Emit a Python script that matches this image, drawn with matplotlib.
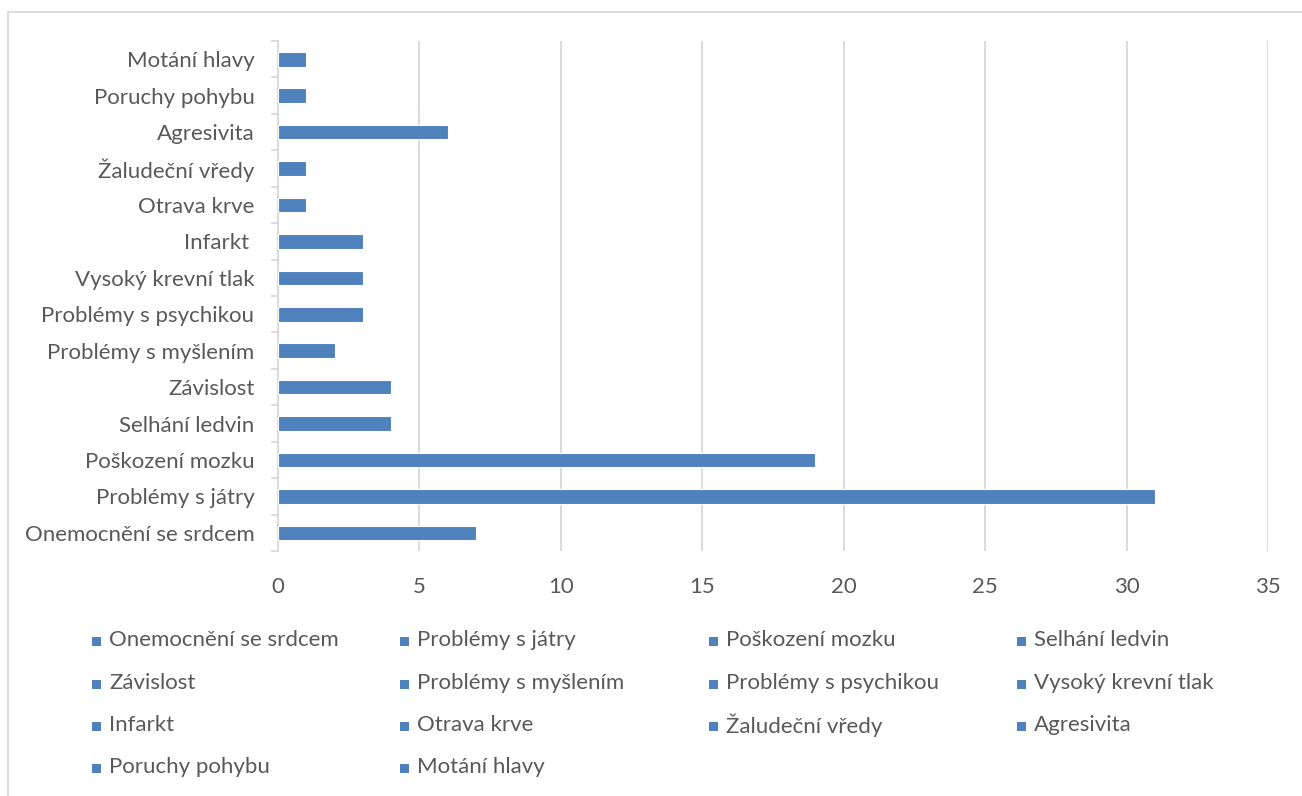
import matplotlib
matplotlib.use("Agg")
import matplotlib.pyplot as plt
from matplotlib.patches import Rectangle
from matplotlib.lines import Line2D
import numpy as np

categories = ["Onemocnění se srdcem", "Problémy s játry", "Poškození mozku",
              "Selhání ledvin", "Závislost", "Problémy s myšlením",
              "Problémy s psychikou", "Vysoký krevní tlak", "Infarkt ",
              "Otrava krve", "Žaludeční vředy", "Agresivita",
              "Poruchy pohybu", "Motání hlavy"]
values = [7, 31, 19, 4, 4, 2, 3, 3, 3, 1, 1, 6, 1, 1]
xticks = [0, 5, 10, 15, 20, 25, 30, 35]

BAR = "#4F81BD"
TXT = "#595959"
GRID = "#D9D9D9"
FS = 16

plt.rcParams['font.family'] = ['Lato', 'DejaVu Sans']

W, H = 1302, 796
fig = plt.figure(figsize=(W / 100, H / 100), dpi=100)
ax = fig.add_axes([278 / W, 1 - 551 / H, (1268 - 278) / W, (551 - 41) / H])

y = np.arange(len(categories))
ax.barh(y, values, height=0.4, color=BAR, edgecolor="white", linewidth=0.8, zorder=3)

ax.set_xlim(0, 35)
ax.set_ylim(-0.5, len(categories) - 0.5)
ax.set_xticks(xticks)
ax.set_xticklabels([str(v) for v in xticks])
ax.set_yticks(y)
ax.set_yticklabels(categories)
ax.set_yticks(np.arange(-0.5, len(categories), 1.0), minor=True)

ax.grid(axis="x", color=GRID, linewidth=1.3, zorder=0)
ax.grid(axis="y", visible=False)
for s in ["top", "right", "bottom"]:
    ax.spines[s].set_visible(False)
ax.spines["left"].set_color(GRID)
ax.spines["left"].set_linewidth(1.3)

ax.tick_params(axis="x", length=0, pad=19, labelsize=FS, labelcolor=TXT)
ax.tick_params(axis="y", which="major", length=0, pad=17, labelsize=FS, labelcolor=TXT)
ax.tick_params(axis="y", which="minor", length=5, width=1.3, color=GRID)

# legend (row-major, 4 columns, equal widths like Excel)
col_x = [92, 400, 709, 1017]
row_y = [641, 684, 726, 768]
for i, lab in enumerate(categories):
    r, c = divmod(i, 4)
    x0 = col_x[c]
    yc = row_y[r]
    fig.patches.append(Rectangle((x0 / W, 1 - (yc + 4.5) / H), 9 / W, 9 / H,
                                 transform=fig.transFigure, facecolor=BAR,
                                 edgecolor="none"))
    fig.text((x0 + 17) / W, 1 - (yc - 1) / H, lab.strip(), fontsize=FS, color=TXT,
             va="center", ha="left")

# chart border (top and left visible)
fig.lines.append(Line2D([8 / W, 1.0], [1 - 12 / H, 1 - 12 / H],
                        transform=fig.transFigure, color=GRID, linewidth=1.3))
fig.lines.append(Line2D([8 / W, 8 / W], [0, 1 - 12 / H],
                        transform=fig.transFigure, color=GRID, linewidth=1.3))

fig.savefig("out.png", dpi=100, facecolor="white")
